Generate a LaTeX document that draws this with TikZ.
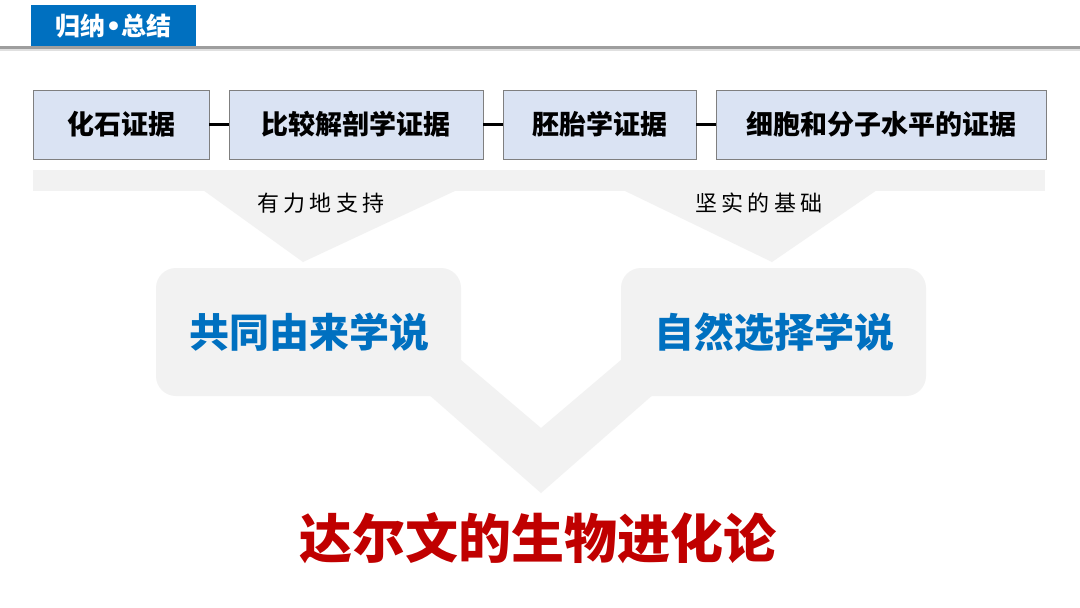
\documentclass[tikz,border=0pt]{standalone}
\usepackage{fontspec}
\newfontfamily\cjk{Noto Sans CJK SC}
\newfontfamily\cjklab[LetterSpace=20]{Noto Sans CJK SC}
\newfontfamily\dv{DejaVu Sans}
\definecolor{hdrblue}{HTML}{0070C0}
\definecolor{boxfill}{HTML}{DAE3F3}
\definecolor{boxline}{HTML}{7F7F7F}
\definecolor{shade}{HTML}{F2F2F2}
\definecolor{darkred}{HTML}{C00000}
\tikzset{
  evbox/.style={draw=boxline, line width=0.9pt, fill=boxfill, minimum height=69pt, inner sep=0pt,
    font=\cjk\bfseries\fontsize{27}{27}\selectfont, text=black},
  link/.style={line width=2.2pt, black},
  shadefill/.style={fill=shade, draw=none},
  theory/.style={font=\cjk\bfseries\fontsize{40}{40}\selectfont, text=hdrblue},
  lab/.style={font=\cjklab\fontsize{22}{22}\selectfont, text=black}
}
\begin{document}
\begin{tikzpicture}[x=1pt,y=-1pt]
\useasboundingbox (0,0) rectangle (1080,608);
\fill[white] (0,0) rectangle (1080,608);
% header
\fill[black!12] (0,48.5) rectangle (1080,51);
\fill[black!38] (0,46) rectangle (1080,48.5);
\node[fill=hdrblue, minimum width=165pt, minimum height=41pt, inner sep=0pt, anchor=north west,
  font=\cjk\bfseries\fontsize{25}{25}\selectfont, text=white] (hdr) at (31,5) {归纳{\dv\bfseries •}总结};
% evidence boxes
\node[evbox, minimum width=176pt] (b1) at (121,124.5) {化石证据};
\node[evbox, minimum width=254pt] (b2) at (356,124.5) {比较解剖学证据};
\node[evbox, minimum width=193pt] (b3) at (599.5,124.5) {胚胎学证据};
\node[evbox, minimum width=330pt] (b4) at (881,124.5) {细胞和分子水平的证据};
\draw[link] (b1.east) -- (b2.west);
\draw[link] (b2.east) -- (b3.west);
\draw[link] (b3.east) -- (b4.west);
% band and triangles
\fill[shadefill] (33,170) rectangle (1045,191);
\fill[shadefill] (203,190) -- (457,190) -- (303,262) -- cycle;
\fill[shadefill] (623,190) -- (877,190) -- (772,262) -- cycle;
\node[lab] (l1) at (321,203) {有力地支持};
\node[lab] (l2) at (759,203) {坚实的基础};
% bubbles and V
\fill[shadefill] (427,393) -- (541,493) -- (655,393) -- (621,360) -- (541,428) -- (461,360) -- cycle;
\fill[shadefill, rounded corners=20pt] (156,268) rectangle (461,396);
\fill[shadefill, rounded corners=20pt] (621,268) rectangle (926,396);
\node[theory] (t1) at (309,332) {共同由来学说};
\node[theory] (t2) at (774,332) {自然选择学说};
% conclusion
\node[font=\cjk\bfseries\fontsize{53}{53}\selectfont, text=darkred] (c) at (538,538) {达尔文的生物进化论};
\end{tikzpicture}
\end{document}
